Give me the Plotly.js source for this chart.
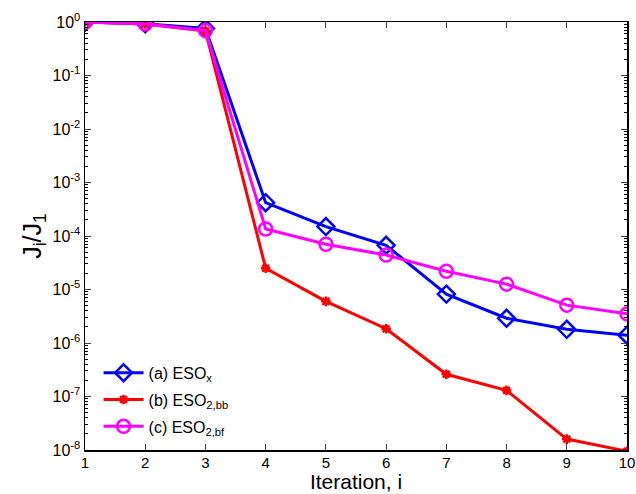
<!DOCTYPE html>
<html><head><meta charset="utf-8">
<script src="https://cdn.plot.ly/plotly-3.0.1.min.js"></script>
<style>body{margin:0;padding:0;background:#fff}#chart{width:636px;height:494px}</style>
</head><body><div id="chart"></div>
<script>
const iterations = [1,2,3,4,5,6,7,8,9,10];
const esoX    = [1, 0.93, 0.76, 4.2e-4, 1.5e-4, 6.7e-5, 8.2e-6, 2.9e-6, 1.8e-6, 1.4e-6];
const eso2bb  = [1, 0.92, 0.68, 2.5e-5, 6.0e-6, 1.85e-6, 2.6e-7, 1.3e-7, 1.6e-8, 9.5e-9];
const eso2bf  = [1, 0.92, 0.69, 1.35e-4, 7.0e-5, 4.4e-5, 2.2e-5, 1.26e-5, 5.1e-6, 3.5e-6];
const seriesNames = ['(a) ESO<sub>x</sub>', '(b) ESO<sub>2,bb</sub>', '(c) ESO<sub>2,bf</sub>'];
const yTickVals = [1e-8,1e-7,1e-6,1e-5,1e-4,1e-3,1e-2,1e-1,1];
const yTickText = ['10<sup>-8</sup>','10<sup>-7</sup>','10<sup>-6</sup>','10<sup>-5</sup>','10<sup>-4</sup>','10<sup>-3</sup>','10<sup>-2</sup>','10<sup>-1</sup>','10<sup>0</sup>'];

const traces = [
  {x: iterations, y: esoX, name: seriesNames[0], mode: 'lines+markers', legendgroup: 'a',
   line: {color: '#0000ff', width: 3}, marker: {symbol: 'diamond-open', size: 13, color: '#0000ff', line: {width: 2.5, color: '#0000ff'}}},
  {x: iterations, y: eso2bb, name: seriesNames[1], mode: 'lines+markers', legendgroup: 'b',
   line: {color: '#ff0000', width: 3}, marker: {symbol: 'asterisk-open', size: 8, color: '#ff0000', line: {width: 2.5, color: '#ff0000'}}},
  {x: iterations, y: eso2bf, name: seriesNames[2], mode: 'lines+markers', legendgroup: 'c',
   line: {color: '#ff00ff', width: 3}, marker: {symbol: 'circle-open', size: 13, color: '#ff00ff', line: {width: 2.5, color: '#ff00ff'}}}
];

const layout = {
  width: 636, height: 494,
  margin: {l: 85, r: 9, t: 22, b: 44},
  paper_bgcolor: '#fff', plot_bgcolor: '#fff',
  font: {family: 'Liberation Sans, Arial, sans-serif', color: '#000', size: 16},
  showlegend: true,
  legend: {x: 0.025, y: 0.22, xanchor: 'left', yanchor: 'top', bgcolor: 'rgba(255,255,255,0)',
           font: {size: 16}, tracegroupgap: 3, itemwidth: 40},
  xaxis: {range: [1, 10], tickvals: iterations, ticks: 'inside', ticklen: 6, tickwidth: 1,
          showline: true, linecolor: '#000', linewidth: 1.5, mirror: 'ticks', showgrid: false, zeroline: false,
          tickfont: {size: 15}, ticklabelstandoff: -2,
          title: {text: 'Iteration, i', font: {size: 21}, standoff: 2}},
  yaxis: {type: 'log', range: [-8, 0], tickvals: yTickVals, ticktext: yTickText, ticks: 'inside', ticklen: 6, tickwidth: 1,
          minor: {ticks: 'inside', ticklen: 3, dtick: 'D1', tickcolor: '#000'},
          showline: true, linecolor: '#000', linewidth: 1.5, mirror: 'ticks', showgrid: false, zeroline: false,
          tickfont: {size: 16},
          title: {text: 'J<sub>i</sub>/J<sub>1</sub>', font: {size: 25}, standoff: 4}}
};

Plotly.newPlot('chart', traces, layout, {displayModeBar: false, staticPlot: true});
</script></body></html>
